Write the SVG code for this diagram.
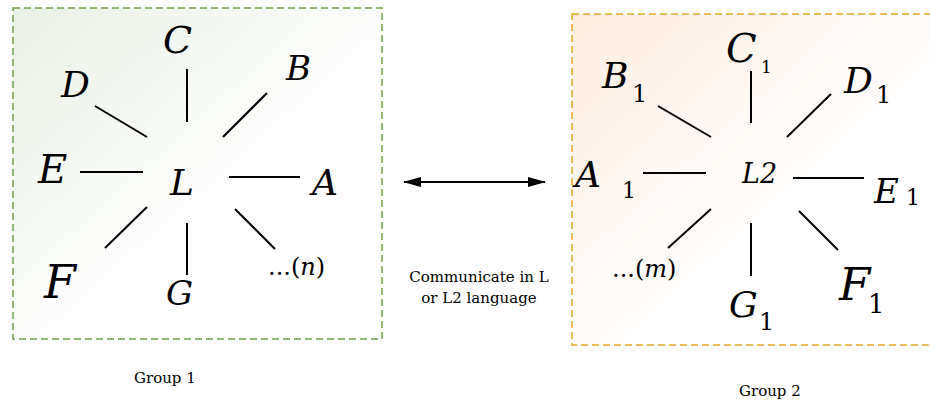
<svg xmlns="http://www.w3.org/2000/svg" width="930" height="401" viewBox="0 0 930 401">
<defs>
<linearGradient id="gGreen" x1="0" y1="0" x2="1" y2="1">
<stop offset="0" stop-color="#e9f0e5"/>
<stop offset="0.6" stop-color="#ffffff"/>
<stop offset="1" stop-color="#ffffff"/>
</linearGradient>
<linearGradient id="gOrange" x1="0" y1="0" x2="1" y2="1">
<stop offset="0" stop-color="#fdede0"/>
<stop offset="0.6" stop-color="#ffffff"/>
<stop offset="1" stop-color="#ffffff"/>
</linearGradient>
<marker id="ah" viewBox="0 0 18 10" refX="17" refY="5" markerWidth="18" markerHeight="10" markerUnits="userSpaceOnUse" orient="auto-start-reverse">
<path d="M0,0 L18,5 L0,10 Z" fill="#000"/>
</marker>
</defs>
<style>
text{font-family:'DejaVu Serif',serif;fill:#000}
.v{font-style:italic}
.s{font-style:normal}
.lbl{font-size:15px}
.ln{stroke:#000;stroke-width:2;fill:none}
</style>
<g id="group1">
<rect x="13" y="8" width="369" height="331" fill="url(#gGreen)" stroke="#6f9e45" stroke-width="1.5" stroke-dasharray="7,4"/>
</g>
<g id="group2">
<rect x="572" y="14" width="365" height="331" fill="url(#gOrange)" stroke="#e3a829" stroke-width="1.5" stroke-dasharray="7,4"/>
</g>
<g id="connectors">
<line class="ln" x1="187" y1="69" x2="187" y2="122"/>
<line class="ln" x1="267" y1="93" x2="223" y2="137"/>
<line class="ln" x1="95" y1="106" x2="147" y2="137"/>
<line class="ln" x1="80" y1="172" x2="143" y2="172"/>
<line class="ln" x1="229" y1="177" x2="300" y2="177"/>
<line class="ln" x1="235" y1="209" x2="275" y2="249"/>
<line class="ln" x1="187" y1="223" x2="187" y2="275"/>
<line class="ln" x1="147" y1="207" x2="105" y2="248"/>
<line class="ln" x1="751" y1="71" x2="751" y2="123"/>
<line class="ln" x1="658" y1="106" x2="711" y2="137"/>
<line class="ln" x1="831" y1="94" x2="787" y2="137"/>
<line class="ln" x1="643" y1="173" x2="706" y2="173"/>
<line class="ln" x1="793" y1="178" x2="864" y2="178"/>
<line class="ln" x1="799" y1="211" x2="838" y2="250"/>
<line class="ln" x1="751" y1="223" x2="751" y2="276"/>
<line class="ln" x1="711" y1="209" x2="668" y2="248"/>
<line x1="404" y1="182" x2="545" y2="182" stroke="#000" stroke-width="2" marker-start="url(#ah)" marker-end="url(#ah)"/>
</g>
<g id="L"><text class="v" x="170" y="195" font-size="36">L</text></g>
<g id="C"><text class="v" x="163" y="53" font-size="38">C</text></g>
<g id="B"><text class="v" x="286" y="80" font-size="34">B</text></g>
<g id="D"><text class="v" x="61" y="97" font-size="36">D</text></g>
<g id="E"><text class="v" x="38" y="183" font-size="40">E</text></g>
<g id="A"><text class="v" x="312" y="195" font-size="36">A</text></g>
<g id="F"><text class="v" x="44" y="298" font-size="46">F</text></g>
<g id="G"><text class="v" x="166" y="305" font-size="34">G</text></g>
<g id="n"><text class="s" x="268" y="275" font-size="24">...(<tspan class="v">n</tspan>)</text></g>
<g id="L2"><text class="v" x="742" y="183" font-size="27">L2</text></g>
<g id="C1"><text class="v" x="726" y="62" font-size="40">C</text><text class="s" x="761" y="73" font-size="17">1</text></g>
<g id="B1"><text class="v" x="602" y="88" font-size="36">B</text><text class="s" x="632" y="102" font-size="24">1</text></g>
<g id="D1"><text class="v" x="844" y="93" font-size="36">D</text><text class="s" x="876" y="103" font-size="24">1</text></g>
<g id="A1"><text class="v" x="575" y="187" font-size="36">A</text><text class="s" x="622" y="198" font-size="22">1</text></g>
<g id="E1"><text class="v" x="874" y="203" font-size="34">E</text><text class="s" x="906" y="205" font-size="22">1</text></g>
<g id="F1"><text class="v" x="839" y="300" font-size="45">F</text><text class="s" x="868" y="313" font-size="26">1</text></g>
<g id="G1"><text class="v" x="729" y="317" font-size="36">G</text><text class="s" x="759" y="330" font-size="24">1</text></g>
<g id="m"><text class="s" x="612" y="277" font-size="24">...(<tspan class="v">m</tspan>)</text></g>
<g id="comm">
<text class="lbl" x="479" y="282" text-anchor="middle">Communicate in L</text>
<text class="lbl" x="479" y="303" text-anchor="middle">or L2 language</text>
</g>
<g id="g1label"><text class="lbl" x="134" y="383">Group 1</text></g>
<g id="g2label"><text class="lbl" x="739" y="396">Group 2</text></g>
</svg>
